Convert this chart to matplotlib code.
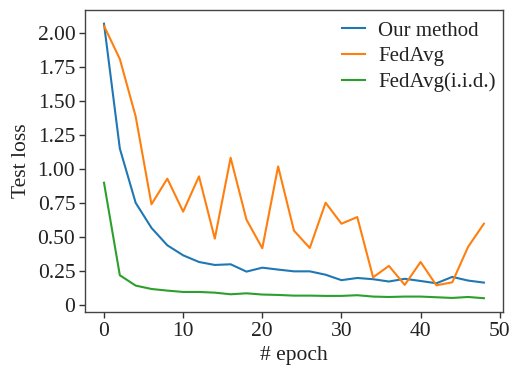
import matplotlib
matplotlib.use("Agg")
import matplotlib.pyplot as plt
from matplotlib.ticker import FixedLocator, FixedFormatter

epochs = list(range(0, 50, 2))
our_method = [2.07, 1.15, 0.75, 0.565, 0.437, 0.363, 0.314, 0.292, 0.297, 0.243,
              0.272, 0.258, 0.245, 0.245, 0.22, 0.18, 0.196, 0.187, 0.17, 0.19,
              0.174, 0.157, 0.204, 0.177, 0.162]
fedavg = [2.054, 1.81, 1.387, 0.739, 0.928, 0.685, 0.945, 0.486, 1.082, 0.626,
          0.415, 1.018, 0.545, 0.417, 0.751, 0.596, 0.645, 0.201, 0.285, 0.145,
          0.314, 0.142, 0.164, 0.425, 0.596]
fedavg_iid = [0.898, 0.216, 0.14, 0.115, 0.103, 0.093, 0.093, 0.088, 0.076, 0.083,
              0.074, 0.071, 0.066, 0.066, 0.064, 0.064, 0.069, 0.059, 0.056, 0.059,
              0.059, 0.054, 0.049, 0.056, 0.047]
ytick_vals = [0, 0.25, 0.5, 0.75, 1.0, 1.25, 1.5, 1.75, 2.0]
ytick_labels = ["0", "0.25", "0.50", "0.75", "1.00", "1.25", "1.50", "1.75", "2.00"]
xtick_vals = [0, 10, 20, 30, 40, 50]

plt.rcParams['font.family'] = ['Liberation Serif', 'DejaVu Serif']
plt.rcParams['font.size'] = 15.5

fig = plt.figure(figsize=(5.09, 3.70), dpi=100)
ax = fig.add_axes([0.167, 0.157, 0.821, 0.816])
ax.plot(epochs, our_method, color='#1f77b4', lw=1.5, label='Our method')
ax.plot(epochs, fedavg, color='#ff7f0e', lw=1.5, label='FedAvg')
ax.plot(epochs, fedavg_iid, color='#2ca02c', lw=1.5, label='FedAvg(i.i.d.)')

ax.yaxis.set_major_locator(FixedLocator(ytick_vals))
ax.yaxis.set_major_formatter(FixedFormatter(ytick_labels))
ax.set_xticks(xtick_vals)
ax.set_xlim(-2.4, 50.4)
ax.set_ylim(-0.054, 2.171)
ax.tick_params(direction='out', length=4, width=1, colors='#333333', labelcolor='#222222', pad=3)
for s in ax.spines.values():
    s.set_color('#444444')
    s.set_linewidth(1.0)
ax.set_xlabel('# epoch', color='#222222', labelpad=4)
ax.set_ylabel('Test loss', color='#222222', labelpad=5)
leg = ax.legend(loc='upper right', bbox_to_anchor=(1.012, 1.005), frameon=False,
                fontsize=15, handlelength=1.1, handletextpad=0.6,
                borderaxespad=0.2, labelspacing=0.3)
for t in leg.get_texts():
    t.set_color('#222222')

fig.savefig('out.png', dpi=100)
